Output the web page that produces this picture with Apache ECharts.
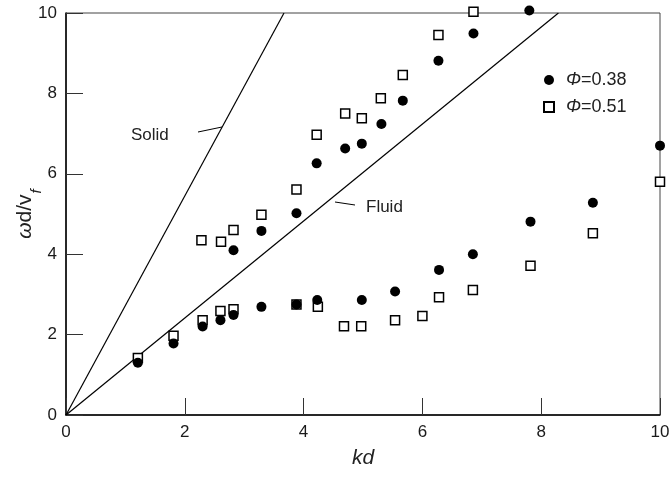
<!DOCTYPE html>
<html>
<head>
<meta charset="utf-8">
<script src="https://cdn.jsdelivr.net/npm/echarts@6/dist/echarts.min.js"></script>
<style>
html,body{margin:0;padding:0;background:#fff;}
#chart{width:671px;height:477px;}
</style>
</head>
<body>
<div id="chart"></div>
<script>
// ---- data ----
var xTicks = [0, 2, 4, 6, 8, 10];
var yTicks = [0, 2, 4, 6, 8, 10];

// Phi = 0.38 (filled circles)
var phi038 = [
  [1.21, 1.30], [1.81, 1.78], [2.30, 2.20], [2.60, 2.36], [2.82, 2.49],
  [3.29, 2.69], [3.88, 2.75], [4.23, 2.86], [4.98, 2.86], [5.54, 3.07],
  [6.28, 3.61], [6.85, 4.00], [7.82, 4.81], [8.87, 5.28], [10.0, 6.70],
  [2.82, 4.10], [3.29, 4.58], [3.88, 5.02], [4.22, 6.26], [4.70, 6.63],
  [4.98, 6.75], [5.31, 7.24], [5.67, 7.82], [6.27, 8.81], [6.86, 9.49],
  [7.80, 10.06]
];

// Phi = 0.51 (open squares)
var phi051 = [
  [1.21, 1.42], [1.81, 1.97], [2.30, 2.36], [2.60, 2.59], [2.82, 2.63],
  [3.88, 2.75], [4.24, 2.69], [4.68, 2.21], [4.97, 2.21], [5.54, 2.36],
  [6.00, 2.46], [6.28, 2.93], [6.85, 3.11], [7.82, 3.71], [8.87, 4.52],
  [10.0, 5.80],
  [2.28, 4.35], [2.61, 4.31], [2.82, 4.60], [3.29, 4.98], [3.88, 5.61],
  [4.22, 6.97], [4.70, 7.50], [4.98, 7.38], [5.30, 7.88], [5.67, 8.46],
  [6.27, 9.45], [6.86, 10.03]
];

// reference lines
var solidLine = [[0, 0], [3.67, 10]];
var fluidLine = [[0, 0], [8.29, 10]];

var seriesNames = ['{i|Φ}=0.38', '{i|Φ}=0.51'];

// ---- chart ----
var chart = echarts.init(document.getElementById('chart'), null, {renderer: 'canvas'});
var font = '"Liberation Sans", Arial, Helvetica, sans-serif';

var option = {
  backgroundColor: '#fff',
  animation: false,
  textStyle: {fontFamily: font},
  grid: {
    left: 66, right: 11, top: 13, bottom: 62,
    containLabel: false, outerBoundsMode: 'none',
    show: true, borderColor: '#444', borderWidth: 1, backgroundColor: 'transparent'
  },
  xAxis: {
    type: 'value', min: 0, max: 10, interval: 2,
    name: 'kd', nameLocation: 'middle', nameGap: 33, nameMoveOverlap: false,
    nameTextStyle: {fontSize: 21, fontStyle: 'italic', color: '#222', fontFamily: font},
    axisLine: {show: true, lineStyle: {color: '#000', width: 1.5}},
    axisTick: {show: true, inside: true, length: 17, lineStyle: {color: '#333', width: 1}},
    axisLabel: {fontSize: 17, color: '#1a1a1a', margin: 9, fontFamily: font},
    splitLine: {show: false}
  },
  yAxis: {
    type: 'value', min: 0, max: 10, interval: 2,
    name: '{w|ω}{a|d/v}{s|f}', nameLocation: 'middle', nameGap: 30, nameRotate: 90,
    nameMoveOverlap: false,
    nameTextStyle: {
      fontSize: 21, color: '#222', fontFamily: font,
      rich: {
        w: {fontSize: 21, fontStyle: 'italic', color: '#222', fontFamily: font},
        a: {fontSize: 21, color: '#222', fontFamily: font},
        s: {fontSize: 15, fontStyle: 'italic', color: '#222', fontFamily: font, verticalAlign: 'bottom', padding: [0, 0, -8, 1]}
      }
    },
    axisLine: {show: true, lineStyle: {color: '#000', width: 1.5}},
    axisTick: {show: true, inside: true, length: 17, lineStyle: {color: '#333', width: 1}},
    axisLabel: {fontSize: 17, color: '#1a1a1a', margin: 9, fontFamily: font},
    splitLine: {show: false}
  },
  legend: {
    orient: 'vertical', left: 538, top: 66,
    itemWidth: 10, itemHeight: 10, itemGap: 9,
    data: [
      {name: seriesNames[0], icon: 'circle'},
      {name: seriesNames[1], icon: 'rect'}
    ],
    textStyle: {
      fontSize: 18, color: '#222', fontFamily: font, lineHeight: 18, padding: [0, 0, 0, 7],
      rich: {i: {fontSize: 18, fontStyle: 'italic', color: '#222', fontFamily: font}}
    }
  },
  series: [
    {
      name: 'Solid', type: 'line', data: solidLine, symbol: 'none',
      lineStyle: {color: '#000', width: 1.2}, silent: true, z: 1
    },
    {
      name: 'Fluid', type: 'line', data: fluidLine, symbol: 'none',
      lineStyle: {color: '#000', width: 1.2}, silent: true, z: 1
    },
    {
      name: seriesNames[0], type: 'scatter', data: phi038, clip: false,
      symbol: 'circle', symbolSize: 10,
      itemStyle: {color: '#000', opacity: 1}, z: 3
    },
    {
      name: seriesNames[1], type: 'scatter', data: phi051, clip: false,
      symbol: 'rect', symbolSize: 9,
      itemStyle: {color: '#fff', borderColor: '#000', borderWidth: 1.5, opacity: 1}, z: 2
    }
  ],
  graphic: [
    {type: 'text', left: 131, top: 127, style: {text: 'Solid', fontSize: 17, fill: '#222', fontFamily: font}},
    {type: 'line', shape: {x1: 198, y1: 132, x2: 222, y2: 127}, style: {stroke: '#000', lineWidth: 1}},
    {type: 'text', left: 366, top: 199, style: {text: 'Fluid', fontSize: 17, fill: '#222', fontFamily: font}},
    {type: 'line', shape: {x1: 335, y1: 202, x2: 355, y2: 205}, style: {stroke: '#000', lineWidth: 1}}
  ]
};
chart.setOption(option);
</script>
</body>
</html>
